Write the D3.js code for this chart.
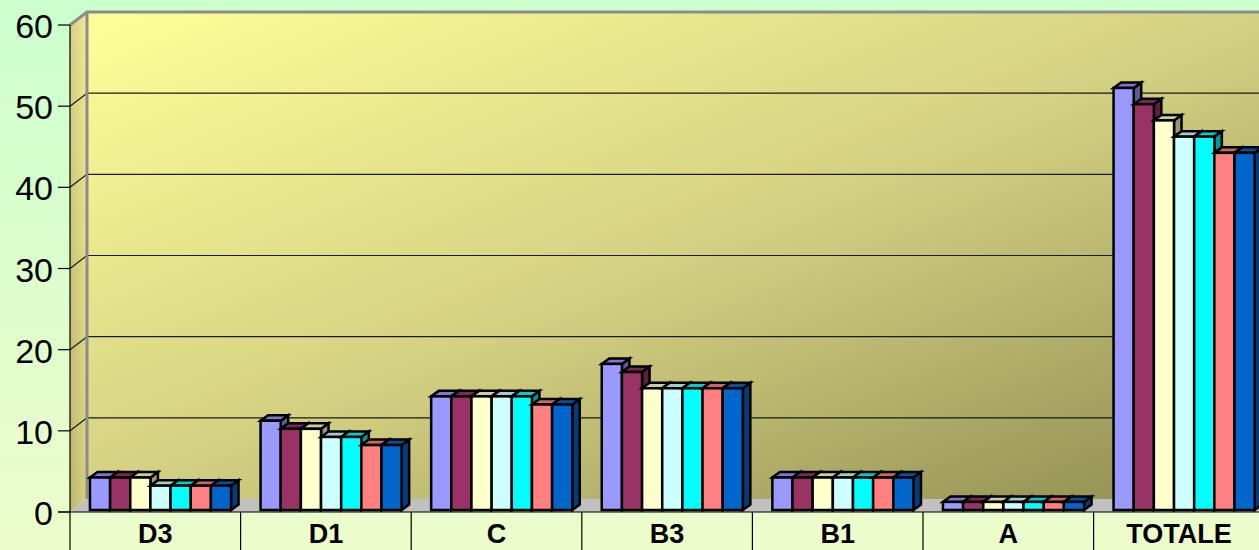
<!DOCTYPE html>
<html>
<head>
<meta charset="utf-8">
<script src="https://cdn.jsdelivr.net/npm/d3@7"></script>
<style>
  html, body { margin: 0; padding: 0; overflow: hidden; background: #e2fdcc; }
  svg { display: block; }
</style>
</head>
<body>
<svg id="chart" width="1259" height="550"></svg>
<script>
// Category labels along the bottom
const categories = ["D3", "D1", "C", "B3", "B1", "A", "TOTALE"];

// One array per series, one value per category
const series1 = [4, 11, 14, 18, 4, 1, 52];
const series2 = [4, 10, 14, 17, 4, 1, 50];
const series3 = [4, 10, 14, 15, 4, 1, 48];
const series4 = [3, 9, 14, 15, 4, 1, 46];
const series5 = [3, 9, 14, 15, 4, 1, 46];
const series6 = [3, 8, 13, 15, 4, 1, 44];
const series7 = [3, 8, 13, 15, 4, 1, 44];

const seriesColors = ["#9999FF", "#993366", "#FFFFCC", "#CCFFFF", "#00FFFF", "#FF8080", "#0066CC"];

// Value axis ticks
const yTicks = [0, 10, 20, 30, 40, 50, 60];

const allSeries = [series1, series2, series3, series4, series5, series6, series7];

const W = 1259, H = 550;
const svg = d3.select("#chart");
const defs = svg.append("defs");

// ---- geometry of the 3D box ----
const left = 70, right = 1264.2;
const DX = 17, DY = -13;           // depth offset of the back wall
const BDX = 7.5, BDY = -5.5;       // depth of each column
const PLANE_Y = -2;                // columns sit slightly behind the front edge

const y = d3.scaleLinear().domain([0, 60]).range([512, 25]);
const yBar = d3.scaleLinear().domain([0, 60]).range([512 + PLANE_Y, 25 + PLANE_Y]);
const x = d3.scaleBand().domain(categories).range([left, right]).padding(0);
const s = d3.scaleBand().domain(d3.range(allSeries.length))
  .range([x.bandwidth() * 0.117, x.bandwidth() * 0.944]).padding(0);

// ---- gradients ----
const bg = defs.append("linearGradient").attr("id", "bg")
  .attr("x1", 0).attr("y1", 0).attr("x2", 0).attr("y2", 1);
bg.append("stop").attr("offset", 0).attr("stop-color", "#CCFFCE");
bg.append("stop").attr("offset", 1).attr("stop-color", "#EDFCCB");

const wall = defs.append("linearGradient").attr("id", "wall")
  .attr("x1", 0).attr("y1", 0).attr("x2", 1).attr("y2", 1);
wall.append("stop").attr("offset", 0).attr("stop-color", "#FFFF99");
wall.append("stop").attr("offset", 0.5).attr("stop-color", "#D4D082");
wall.append("stop").attr("offset", 1).attr("stop-color", "#8C8A50");

const side = defs.append("linearGradient").attr("id", "side")
  .attr("x1", 1).attr("y1", 0).attr("x2", 0).attr("y2", 1);
side.append("stop").attr("offset", 0).attr("stop-color", "#F0EB98");
side.append("stop").attr("offset", 1).attr("stop-color", "#BDB66E");

// ---- background ----
svg.append("rect").attr("width", W).attr("height", H).attr("fill", "url(#bg)");

const line = d3.line();

// back wall
svg.append("path")
  .attr("d", line([[left + DX, y(60) + DY], [right + DX, y(60) + DY], [right + DX, y(0) + DY], [left + DX, y(0) + DY]]) + "Z")
  .attr("fill", "url(#wall)");

// left side wall
svg.append("path")
  .attr("d", line([[left, y(60)], [left + DX, y(60) + DY], [left + DX, y(0) + DY], [left, y(0)]]) + "Z")
  .attr("fill", "url(#side)");

// floor
svg.append("path")
  .attr("d", line([[left, y(0)], [left + DX, y(0) + DY], [right + DX, y(0) + DY], [right, y(0)]]) + "Z")
  .attr("fill", "#C0C0C0");

// gridlines on the back wall and across the side wall
const grid = svg.append("g").attr("stroke", "#1a1a1a").attr("stroke-width", 1.2).attr("fill", "none");
yTicks.filter(v => v > 0 && v < 60).forEach(v => {
  grid.append("path").attr("d", line([[left + DX, y(v) + DY], [right + DX, y(v) + DY]]));
  grid.append("path").attr("d", line([[left, y(v)], [left + DX, y(v) + DY]]));
});

// wall border
const border = svg.append("g").attr("stroke", "#8C8C8C").attr("stroke-width", 3).attr("fill", "none");
border.append("path").attr("d", line([[left, y(60)], [left + DX, y(60) + DY], [right + DX + 10, y(60) + DY]]));
border.append("path").attr("d", line([[left + DX, y(60) + DY], [left + DX, y(0) + DY]]));

// ---- columns ----
function shade(c, k) {
  const r = d3.rgb(c);
  return d3.rgb(r.r * k, r.g * k, r.b * k).formatHex();
}

const bw = s.bandwidth();
const bars = svg.append("g").attr("stroke", "#000").attr("stroke-width", 2.5).attr("stroke-linejoin", "miter");
categories.forEach((cat, ci) => {
  allSeries.forEach((ser, si) => {
    const v = ser[ci];
    const x0 = x(cat) + s(si), x1 = x0 + bw;
    const yt = yBar(v), yb = yBar(0);
    const col = seriesColors[si];
    const g = bars.append("g");
    g.append("path")
      .attr("d", line([[x1, yt], [x1 + BDX, yt + BDY], [x1 + BDX, yb + BDY], [x1, yb]]) + "Z")
      .attr("fill", shade(col, 0.6));
    g.append("path")
      .attr("d", line([[x0, yt], [x0 + BDX, yt + BDY], [x1 + BDX, yt + BDY], [x1, yt]]) + "Z")
      .attr("fill", shade(col, 0.8));
    g.append("rect")
      .attr("x", x0).attr("y", yt).attr("width", bw).attr("height", yb - yt)
      .attr("fill", col);
  });
});

// ---- axes ----
const axisG = svg.append("g").attr("stroke", "#000").attr("stroke-width", 1.2).attr("fill", "none");
axisG.append("path").attr("d", line([[left, y(60)], [left, H]]));
axisG.append("path").attr("d", line([[left - 12, y(0)], [right, y(0)]]));
yTicks.forEach(v => {
  axisG.append("path").attr("d", line([[left - 12, y(v)], [left, y(v)]]));
});
categories.slice(1).forEach(cat => {
  axisG.append("path").attr("d", line([[x(cat), y(0)], [x(cat), H]]));
});

svg.append("g")
  .selectAll("text").data(yTicks).join("text")
  .attr("x", 53).attr("y", v => y(v) + 13)
  .attr("text-anchor", "end")
  .attr("font-family", "'Liberation Sans', Arial, sans-serif")
  .attr("font-size", 34)
  .attr("fill", "#000")
  .text(v => v);

svg.append("g")
  .selectAll("text").data(categories).join("text")
  .attr("x", d => x(d) + x.bandwidth() / 2)
  .attr("y", 543)
  .attr("text-anchor", "middle")
  .attr("font-family", "'Liberation Sans', Arial, sans-serif")
  .attr("font-weight", "bold")
  .attr("font-size", 27)
  .attr("fill", "#000")
  .text(d => d);
</script>
</body>
</html>
